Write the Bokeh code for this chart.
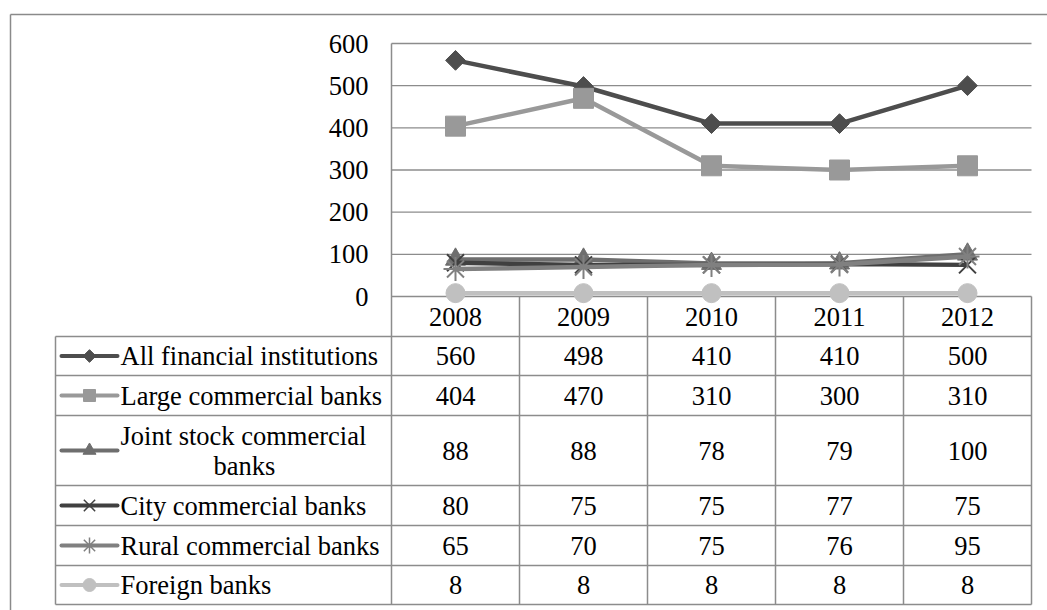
import math
from bokeh.plotting import figure
from bokeh.models import Range1d
from bokeh.core.properties import value
from bokeh.embed import file_html
from bokeh.resources import INLINE

# ---- data -------------------------------------------------------------
years = ["2008", "2009", "2010", "2011", "2012"]
all_financial = [560, 498, 410, 410, 500]
large_commercial = [404, 470, 310, 300, 310]
joint_stock = [88, 88, 78, 79, 100]
city_commercial = [80, 75, 75, 77, 75]
rural_commercial = [65, 70, 75, 76, 95]
foreign_banks = [8, 8, 8, 8, 8]

series_names = [
    "All financial institutions",
    "Large commercial banks",
    "Joint stock commercial banks",
    "City commercial banks",
    "Rural commercial banks",
    "Foreign banks",
]
y_ticks = [0, 100, 200, 300, 400, 500, 600]
y_tick_labels = ["0", "100", "200", "300", "400", "500", "600"]

# ---- layout (canvas pixels) -------------------------------------------
W, H = 1047, 610
PLOT_L, PLOT_R = 391, 1031
PLOT_T, PLOT_B = 43, 296
Y_MAX = 600
TABLE_L = 55
ROW_EDGES = [336, 375, 415, 485, 525, 565, 604]
HEADER_MID = 316
FONT = value("'Liberation Serif', 'Times New Roman', serif")
FSIZE = "26.5px"
GRID_COLOR = "#8c8c8c"

n = len(years)
col_w = (PLOT_R - PLOT_L) / n
px_per_val = (PLOT_B - PLOT_T) / Y_MAX

p = figure(
    width=W, height=H,
    x_range=Range1d(0, W), y_range=Range1d(H, 0),
    x_axis_location=None, y_axis_location=None,
    toolbar_location=None, output_backend="svg",
    min_border=0, outline_line_color=None,
    background_fill_color="white", border_fill_color="white",
)
p.grid.visible = False

# category units: one unit per year column; value units: data values
p.extra_x_ranges = {"cat": Range1d(-PLOT_L / col_w, (W - PLOT_L) / col_w)}
p.extra_y_ranges = {"val": Range1d((PLOT_B - H) / px_per_val, PLOT_B / px_per_val)}

xs = [i + 0.5 for i in range(n)]

# outer chart border
p.multi_line(xs=[[10, W + 5], [10, 10]], ys=[[14, 14], [14, H + 5]],
             line_color="#8a8a8a", line_width=1.5)

# horizontal gridlines
p.segment(x0=[0] * len(y_ticks), x1=[n] * len(y_ticks), y0=y_ticks, y1=y_ticks,
          x_range_name="cat", y_range_name="val",
          line_color=GRID_COLOR, line_width=1.3)

# value axis tick labels
p.text(x=[PLOT_L - 23] * len(y_ticks), y=y_ticks, text=y_tick_labels,
       y_range_name="val", text_align="right", text_baseline="middle",
       text_font=FONT, text_font_size=FSIZE, text_color="black")

# data table grid
p.segment(x0=[TABLE_L] * len(ROW_EDGES), x1=[PLOT_R] * len(ROW_EDGES),
          y0=ROW_EDGES, y1=ROW_EDGES, line_color=GRID_COLOR, line_width=1.5)
p.segment(x0=[TABLE_L], x1=[TABLE_L], y0=[ROW_EDGES[0]], y1=[ROW_EDGES[-1]],
          line_color=GRID_COLOR, line_width=1.5)
p.segment(x0=[PLOT_L], x1=[PLOT_L], y0=[PLOT_T], y1=[ROW_EDGES[-1]],
          line_color=GRID_COLOR, line_width=1.5)
col_edges = list(range(1, n + 1))
p.segment(x0=col_edges, x1=col_edges, y0=[PLOT_B] * n, y1=[ROW_EDGES[-1]] * n,
          x_range_name="cat", line_color=GRID_COLOR, line_width=1.5)

# year labels
p.text(x=xs, y=[HEADER_MID] * n, text=years, x_range_name="cat",
       text_align="center", text_baseline="middle",
       text_font=FONT, text_font_size=FSIZE, text_color="black")

styles = [
    dict(values=all_financial, color="#4d4d4d", marker="square", angle=math.pi / 4, size=14, msize=9),
    dict(values=large_commercial, color="#999999", marker="square", angle=0, size=20, msize=12),
    dict(values=joint_stock, color="#6e6e6e", marker="triangle", angle=0, size=20, msize=13),
    dict(values=city_commercial, color="#404040", marker="x", angle=0, size=24, msize=16),
    dict(values=rural_commercial, color="#808080", marker="asterisk", angle=0, size=24, msize=16),
    dict(values=foreign_banks, color="#c0c0c0", marker="circle", angle=0, size=19, msize=13),
]

row_mids = [(ROW_EDGES[i] + ROW_EDGES[i + 1]) / 2 for i in range(len(ROW_EDGES) - 1)]

for s, name, ymid in zip(styles, series_names, row_mids):
    line_kw = dict(x_range_name="cat", y_range_name="val")
    p.line(xs, s["values"], line_color=s["color"], line_width=4.5, **line_kw)
    if s["marker"] in ("x", "asterisk"):
        p.scatter(xs, s["values"], marker=s["marker"], size=s["size"],
                  line_color=s["color"], line_width=2, **line_kw)
    else:
        p.scatter(xs, s["values"], marker=s["marker"], size=s["size"], angle=s["angle"],
                  fill_color=s["color"], line_color=s["color"], **line_kw)

    # legend key in the table's first column
    p.line([61, 117], [ymid, ymid], line_color=s["color"], line_width=4, line_cap="round")
    if s["marker"] in ("x", "asterisk"):
        p.scatter([89], [ymid], marker=s["marker"], size=s["msize"],
                  line_color=s["color"], line_width=1.5)
    else:
        p.scatter([89], [ymid], marker=s["marker"], size=s["msize"], angle=s["angle"],
                  fill_color=s["color"], line_color=s["color"])

    # series label
    if name == "Joint stock commercial banks":
        p.text(x=[120], y=[ymid - 15], text=["Joint stock commercial"],
               text_align="left", text_baseline="middle",
               text_font=FONT, text_font_size=FSIZE, text_color="black")
        p.text(x=[244], y=[ymid + 15], text=["banks"],
               text_align="center", text_baseline="middle",
               text_font=FONT, text_font_size=FSIZE, text_color="black")
    else:
        p.text(x=[120], y=[ymid], text=[name],
               text_align="left", text_baseline="middle",
               text_font=FONT, text_font_size=FSIZE, text_color="black")

    # values
    p.text(x=xs, y=[ymid] * n, text=[str(v) for v in s["values"]],
           x_range_name="cat", text_align="center", text_baseline="middle",
           text_font=FONT, text_font_size=FSIZE, text_color="black")

open("out.html", "w").write(file_html(p, INLINE))
